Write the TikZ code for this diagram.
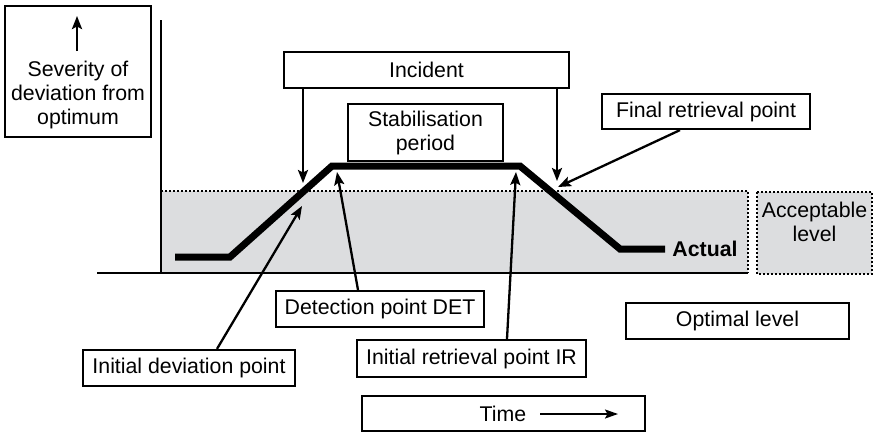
\documentclass[tikz,border=0pt]{standalone}
\usepackage{fontspec}
\setmainfont{Liberation Sans}
\usetikzlibrary{arrows.meta}
\definecolor{fillg}{RGB}{220,221,223}
\begin{document}
\begin{tikzpicture}[x=1pt,y=-1pt, font=\fontsize{21.3}{24}\selectfont,
  box/.style={draw, line width=2.2pt, inner sep=0pt, align=center},
  conn/.style={line width=2.3pt, -{Stealth[length=13pt,width=10pt,inset=2.5pt]}},
  dotline/.style={line width=2.2pt, dash pattern=on 2pt off 2pt},
  plain/.style={inner sep=0pt, align=center}]
\path[use as bounding box] (0,0) rectangle (876,432);
% shaded region
\fill[fillg] (161,191) rectangle (748,273);
\draw[dotline] (161,191) -- (748,191) -- (748,273);
\fill[fillg] (757,192) rectangle (872,274);
\draw[dotline] (757,192) rectangle (872,274);
\node[plain] (acc) at (814.5,222) {Acceptable\\level};
% axes
\draw[line width=2pt] (161,20) -- (161,273);
\draw[line width=2pt] (97,273) -- (748,273);
% severity box
\node[box, minimum width=146pt, minimum height=131pt] (sev) at (78,71.5) {};
\node[plain] (sevtext) at (78,95) {Severity of\\deviation from\\optimum};
\coordinate (sevbot) at (77,51);
\coordinate (sevtop) at (77,16);
\draw[line width=2.6pt, -{Stealth[length=13pt,width=10pt,inset=2.5pt]}] (sevbot) -- (sevtop);
% actual curve
\coordinate (c1) at (175,257);
\coordinate (c2) at (230,257);
\coordinate (c3) at (332,166);
\coordinate (c4) at (520,166);
\coordinate (c5) at (620,249);
\coordinate (c6) at (665,249);
\draw[line width=7pt, line join=miter] (c1) -- (c2) -- (c3) -- (c4) -- (c5) -- (c6);
\node[plain, font=\fontsize{21.3}{24}\selectfont\bfseries] (actual) at (705,249) {Actual};
% boxes
\node[box, minimum width=285pt, minimum height=36pt] (incident) at (426.5,70) {Incident};
\node[box, minimum width=155pt, minimum height=57pt] (stab) at (425.5,132.5) {Stabilisation\\period};
\node[box, minimum width=208pt, minimum height=35pt] (final) at (706,111.5) {Final retrieval point};
\node[box, minimum width=208pt, minimum height=36pt] (det) at (380,309) {Detection point DET};
\node[box, minimum width=212pt, minimum height=36pt] (idp) at (189,368) {Initial deviation point};
\node[box, minimum width=229pt, minimum height=37pt] (irp) at (471.5,358.5) {Initial retrieval point IR};
\node[box, minimum width=223pt, minimum height=36pt] (opt) at (737.5,321) {Optimal level};
\node[box, minimum width=283pt, minimum height=35pt] (time) at (503.5,413.5) {};
\node[plain] (timetext) at (503,413.5) {Time};
\coordinate (ta) at (540,414);
\coordinate (tb) at (618,414);
\draw[line width=2pt, -{Stealth[length=13pt,width=9pt,inset=2.5pt]}] (ta) -- (tb);
% connectors
\coordinate (dev1) at (303,183);
\coordinate (fin1) at (557,181);
\coordinate (fin2) at (558,187);
\coordinate (detp) at (337,172);
\coordinate (idpp) at (302,206);
\coordinate (irpp) at (516,172);
\draw[conn] (dev1 |- incident.south) -- (dev1);
\draw[conn] (fin1 |- incident.south) -- (fin1);
\draw[conn] (680,0 |- final.south) -- (fin2);
\draw[conn] (358,0 |- det.north) -- (detp);
\draw[conn] (217,0 |- idp.north) -- (idpp);
\draw[conn] (507,0 |- irp.north) -- (irpp);
\end{tikzpicture}
\end{document}
